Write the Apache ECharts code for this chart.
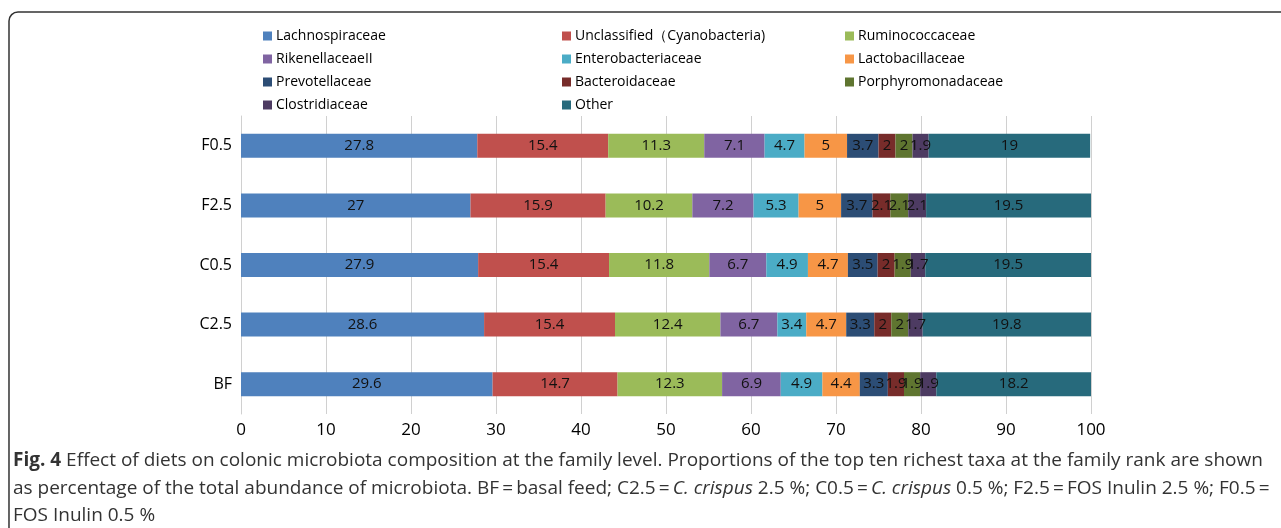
<!DOCTYPE html>
<html>
<head>
<meta charset="utf-8">
<script src="https://cdn.jsdelivr.net/npm/echarts@6/dist/echarts.min.js"></script>
<style>html,body{margin:0;padding:0;background:#fff;}#c{width:1281px;height:528px;}</style>
</head>
<body>
<div id="c"></div>
<script>
const categories = ['BF', 'C2.5', 'C0.5', 'F2.5', 'F0.5'];
const taxa = ['Lachnospiraceae', 'Unclassified\uFF08Cyanobacteria)', 'Ruminococcaceae', 'RikenellaceaeII', 'Enterobacteriaceae', 'Lactobacillaceae', 'Prevotellaceae', 'Bacteroidaceae', 'Porphyromonadaceae', 'Clostridiaceae', 'Other'];
const colors = ['#4F81BD', '#C0504D', '#9BBB59', '#8064A2', '#4BACC6', '#F79646', '#2C4D75', '#772C2A', '#5F7530', '#4D3B62', '#276A7C'];
// values per taxon, in category order BF, C2.5, C0.5, F2.5, F0.5
const lachnospiraceae = [29.6, 28.6, 27.9, 27, 27.8];
const unclassified = [14.7, 15.4, 15.4, 15.9, 15.4];
const ruminococcaceae = [12.3, 12.4, 11.8, 10.2, 11.3];
const rikenellaceae = [6.9, 6.7, 6.7, 7.2, 7.1];
const enterobacteriaceae = [4.9, 3.4, 4.9, 5.3, 4.7];
const lactobacillaceae = [4.4, 4.7, 4.7, 5, 5];
const prevotellaceae = [3.3, 3.3, 3.5, 3.7, 3.7];
const bacteroidaceae = [1.9, 2, 2, 2.1, 2];
const porphyromonadaceae = [1.9, 2, 1.9, 2.1, 2];
const clostridiaceae = [1.9, 1.7, 1.7, 2.1, 1.9];
const other = [18.2, 19.8, 19.5, 19.5, 19];
const seriesValues = [lachnospiraceae, unclassified, ruminococcaceae, rikenellaceae, enterobacteriaceae, lactobacillaceae, prevotellaceae, bacteroidaceae, porphyromonadaceae, clostridiaceae, other];
const xTicks = [0, 10, 20, 30, 40, 50, 60, 70, 80, 90, 100];

const FONT = '"Open Sans", "Noto Sans", sans-serif';
const chart = echarts.init(document.getElementById('c'), null, {renderer: 'canvas'});

const legendBase = {
  orient: 'vertical', itemWidth: 9, itemHeight: 9, itemGap: 9, icon: 'rect',
  textStyle: {fontFamily: FONT, fontSize: 14, color: '#000', padding: [0, 0, 0, -1]},
  selectedMode: false, padding: 0
};

chart.setOption({
  animation: false,
  color: colors,
  legend: [
    Object.assign({}, legendBase, {left: 263, top: 29, data: [taxa[0], taxa[3], taxa[6], taxa[9]]}),
    Object.assign({}, legendBase, {left: 562, top: 29, data: [taxa[1], taxa[4], taxa[7], taxa[10]]}),
    Object.assign({}, legendBase, {left: 845, top: 29, data: [taxa[2], taxa[5], taxa[8]]})
  ],
  grid: {left: 241, right: 190, top: 116, bottom: 114, containLabel: false},
  xAxis: {
    type: 'value', min: 0, max: 100, interval: 10,
    axisLine: {show: false}, axisTick: {show: false},
    axisLabel: {fontFamily: FONT, fontSize: 17, color: '#000', margin: 8,
      formatter: v => xTicks.includes(v) ? String(v) : ''},
    splitLine: {show: true, lineStyle: {color: '#D0D0D0', width: 1}}
  },
  yAxis: {
    type: 'category', data: categories,
    axisLine: {show: true, lineStyle: {color: '#D0D0D0'}}, axisTick: {show: false},
    axisLabel: {fontFamily: FONT, fontSize: 16, color: '#000', margin: 9}
  },
  series: seriesValues.map((vals, i) => ({
    name: taxa[i], type: 'bar', stack: 'total', barWidth: 24,
    data: vals,
    itemStyle: {color: colors[i]},
    label: {show: true, position: 'inside', fontFamily: FONT, fontSize: 15, color: '#111',
      formatter: p => String(p.value)}
  })),
  graphic: [
    {type: 'rect', shape: {x: 9, y: 12, width: 1400, height: 700, r: 9}, style: {fill: 'none', stroke: '#333', lineWidth: 1.5}, silent: true, z: -1},
    {type: 'text', left: 13, top: 451, style: {
      text: '{b|Fig. 4} Effect of diets on colonic microbiota composition at the family level. Proportions of the top ten richest taxa at the family rank are shown',
      font: '19px ' + FONT, fill: '#333',
      rich: {b: {fontWeight: 'bold', fontSize: 19, fontFamily: FONT, fill: '#333'}}
    }},
    {type: 'text', left: 13, top: 479, style: {
      text: 'as percentage of the total abundance of microbiota. BF\u2009=\u2009basal feed; C2.5\u2009=\u2009{i|C. crispus} 2.5 %; C0.5\u2009=\u2009{i|C. crispus} 0.5 %; F2.5\u2009=\u2009FOS Inulin 2.5 %; F0.5\u2009=',
      font: '19px ' + FONT, fill: '#333',
      rich: {i: {fontStyle: 'italic', fontSize: 19, fontFamily: FONT, fill: '#333'}}
    }},
    {type: 'text', left: 13, top: 506, style: {
      text: 'FOS Inulin 0.5 %', font: '19px ' + FONT, fill: '#333'
    }}
  ]
});
</script>
</body>
</html>
